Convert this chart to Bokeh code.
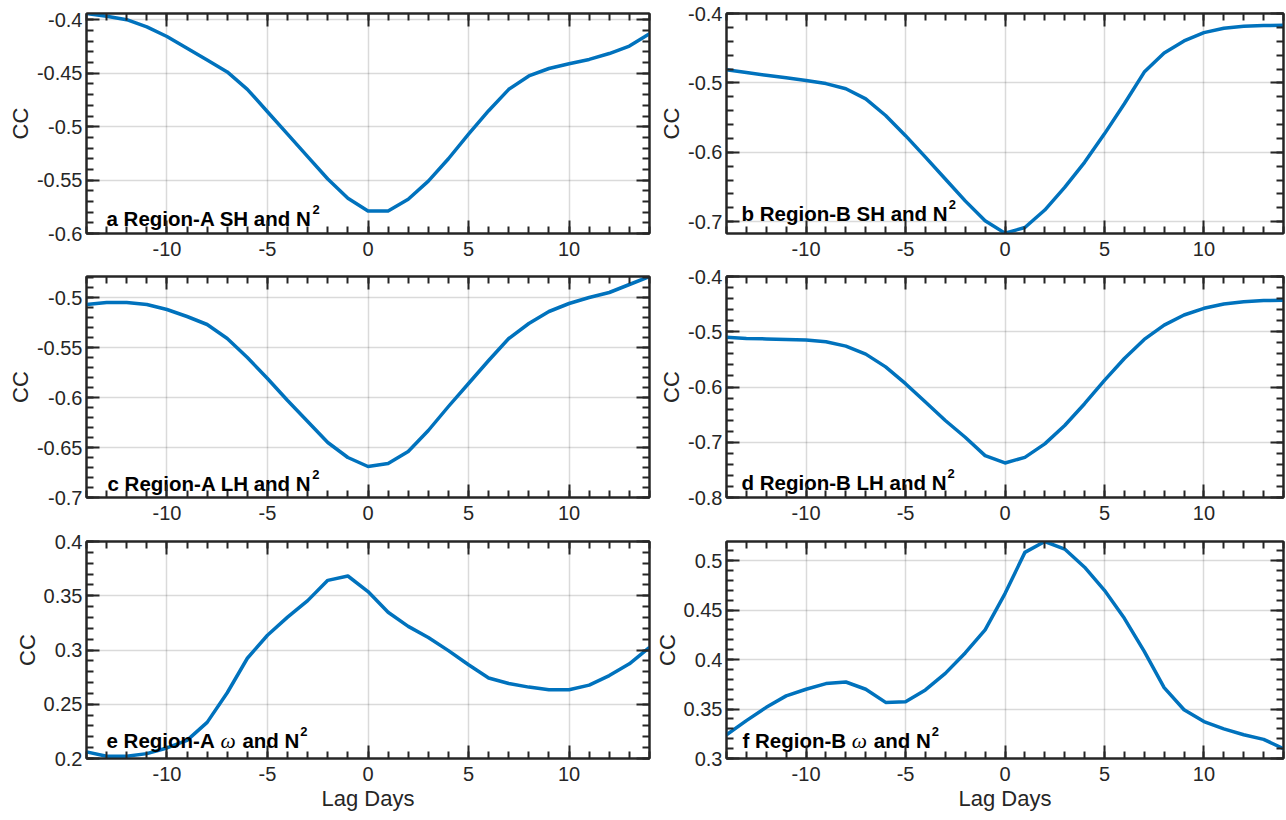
import numpy as np
from bokeh.plotting import figure
from bokeh.layouts import gridplot
from bokeh.models import (Range1d, Grid, LinearAxis, FixedTicker,
                          CustomJSTickFormatter)
from bokeh.core.properties import value
from bokeh.embed import file_html
from bokeh.resources import INLINE

# ---------------- data ----------------
lags = list(range(-14, 15))

cc_a = [-0.394, -0.3965, -0.3998, -0.4065, -0.4155, -0.4265, -0.4375, -0.4487,
        -0.465, -0.486, -0.507, -0.528, -0.549, -0.567, -0.579, -0.579, -0.568,
        -0.551, -0.530, -0.507, -0.485, -0.465, -0.4525, -0.4455, -0.441,
        -0.437, -0.4315, -0.4245, -0.413]
cc_b = [-0.481, -0.485, -0.489, -0.4925, -0.4964, -0.501, -0.5084, -0.523,
        -0.547, -0.576, -0.607, -0.6385, -0.670, -0.6987, -0.7165, -0.7084,
        -0.6832, -0.6506, -0.6144, -0.5734, -0.530, -0.4844, -0.457, -0.4396,
        -0.4275, -0.4212, -0.4184, -0.4173, -0.417]
cc_c = [-0.507, -0.505, -0.505, -0.507, -0.512, -0.519, -0.527, -0.541, -0.560,
        -0.581, -0.603, -0.624, -0.645, -0.660, -0.669, -0.666, -0.654, -0.633,
        -0.609, -0.586, -0.563, -0.541, -0.526, -0.514, -0.506, -0.500, -0.495,
        -0.487, -0.479]
cc_d = [-0.510, -0.512, -0.513, -0.514, -0.515, -0.518, -0.526, -0.5405,
        -0.5636, -0.594, -0.6273, -0.6606, -0.6909, -0.7242, -0.7375, -0.7273,
        -0.703, -0.6697, -0.6303, -0.5879, -0.5485, -0.5139, -0.4879, -0.4697,
        -0.4576, -0.4497, -0.4455, -0.4436, -0.443]
cc_e = [0.2061, 0.2021, 0.2021, 0.2045, 0.2097, 0.2167, 0.2333, 0.2606, 0.2924,
        0.3136, 0.3303, 0.3455, 0.3642, 0.3682, 0.3539, 0.3348, 0.3218, 0.3115,
        0.2994, 0.2864, 0.2742, 0.2691, 0.2658, 0.2633, 0.2633, 0.2676, 0.2764,
        0.2873, 0.3024]
cc_f = [0.324, 0.3383, 0.3517, 0.3633, 0.370, 0.3757, 0.3773, 0.370, 0.3567,
        0.3573, 0.3693, 0.386, 0.4067, 0.430, 0.4667, 0.5083, 0.5193, 0.5117,
        0.4933, 0.470, 0.4417, 0.4083, 0.3717, 0.3493, 0.3373, 0.330, 0.324,
        0.3193, 0.310]

ylim_a = [-0.6, -0.394]
ylim_b = [-0.717, -0.4]
ylim_c = [-0.7, -0.479]
ylim_d = [-0.8, -0.4]
ylim_e = [0.2, 0.4]
ylim_f = [0.3, 0.5193]

yticks_a = [-0.6, -0.55, -0.5, -0.45, -0.4]
yticks_b = [-0.7, -0.6, -0.5, -0.4]
yticks_c = [-0.7, -0.65, -0.6, -0.55, -0.5]
yticks_d = [-0.8, -0.7, -0.6, -0.5, -0.4]
yticks_e = [0.2, 0.25, 0.3, 0.35, 0.4]
yticks_f = [0.3, 0.35, 0.4, 0.45, 0.5]
yminor_step = [0.01, 0.02, 0.01, 0.02, 0.01, 0.01]

xticks = [-10, -5, 0, 5, 10]
xminor = list(range(-14, 15))

titles_pre = ["a Region-A SH and N", "b Region-B SH and N", "c Region-A LH and N",
              "d Region-B LH and N", "e Region-A", "f Region-B"]
titles_omega = [None, None, None, None, "and N", "and N"]
superscript = "2"
omega = "\u03c9"
ylabel = "CC"
xlabel = "Lag Days"

# ---------------- style ----------------
LINE = "#0072BD"
DARK = "#262626"
FONT = "Liberation Sans"
TICK_FS = "20px"
LAB_FS = "22px"
ANN_FS = 20.5
SUP_FS = 13

BOLD_W = {' ': 278, '-': 333, '2': 556, 'a': 556, 'b': 611, 'c': 556, 'd': 611,
          'e': 556, 'f': 333, 'g': 611, 'i': 278, 'n': 611, 'o': 611, 'R': 722,
          'A': 722, 'B': 722, 'S': 667, 'H': 722, 'L': 611, 'N': 722}


def tw(s, size):
    return sum(BOLD_W[c] for c in s) * size / 1000.0


fmt = CustomJSTickFormatter(code="return String(parseFloat(tick.toFixed(3)));")
blank = CustomJSTickFormatter(code="return '';")

# annotation offsets (px from frame left / frame bottom)
ann_dx = [20, 15, 21, 15, 20, 16]
ann_dy = [15, 20, 14, 15, 18, 18]

# layout (px)
heights = [265, 264, 291]
tops = [13, 11, 12]
bottoms = [32, 32, 62]
widths = [651, 634]
lefts = [86, 70]

series = [cc_a, cc_b, cc_c, cc_d, cc_e, cc_f]
ylims = [ylim_a, ylim_b, ylim_c, ylim_d, ylim_e, ylim_f]
yticks = [yticks_a, yticks_b, yticks_c, yticks_d, yticks_e, yticks_f]


def style_axis(ax):
    ax.axis_line_color = DARK
    ax.axis_line_width = 2
    ax.major_tick_line_color = DARK
    ax.minor_tick_line_color = DARK
    ax.major_tick_line_width = 2
    ax.minor_tick_line_width = 2
    ax.major_tick_in = 13
    ax.major_tick_out = 0
    ax.minor_tick_in = 7
    ax.minor_tick_out = 0
    ax.major_label_text_font = FONT
    ax.major_label_text_color = DARK


figs = []
for k in range(6):
    row, col = k // 2, k % 2
    lo, hi = ylims[k]
    step = yminor_step[k]
    yminor = list(np.round(np.arange(round(lo / step) * step - step, hi + step, step), 4))
    xt = FixedTicker(ticks=xticks, minor_ticks=xminor)
    yt = FixedTicker(ticks=yticks[k], minor_ticks=yminor)

    p = figure(width=widths[col], height=heights[row],
               x_range=Range1d(lags[0], lags[-1]), y_range=Range1d(lo, hi),
               x_axis_type=None, y_axis_type=None,
               output_backend="svg", toolbar_location=None, title=None,
               min_border_left=lefts[col], min_border_right=2,
               min_border_top=tops[row], min_border_bottom=bottoms[row])
    p.background_fill_color = "white"
    p.border_fill_color = "white"
    p.outline_line_color = DARK
    p.outline_line_width = 2

    p.add_layout(Grid(dimension=0, ticker=xt, grid_line_color=DARK,
                      grid_line_alpha=0.17, grid_line_width=1.5))
    p.add_layout(Grid(dimension=1, ticker=yt, grid_line_color=DARK,
                      grid_line_alpha=0.17, grid_line_width=1.5))

    xb = LinearAxis(ticker=xt, formatter=fmt)
    style_axis(xb)
    xb.major_label_text_font_size = TICK_FS
    xb.major_label_standoff = 8
    if row == 2:
        xb.axis_label = xlabel
        xb.axis_label_text_font = FONT
        xb.axis_label_text_font_size = LAB_FS
        xb.axis_label_text_font_style = "normal"
        xb.axis_label_text_color = DARK
        xb.axis_label_standoff = 2
    p.add_layout(xb, "below")

    yl = LinearAxis(ticker=yt, formatter=fmt, axis_label=ylabel)
    style_axis(yl)
    yl.major_label_text_font_size = TICK_FS
    yl.major_label_standoff = 4
    yl.axis_label_text_font = FONT
    yl.axis_label_text_font_size = LAB_FS
    yl.axis_label_text_font_style = "normal"
    yl.axis_label_text_color = DARK
    yl.axis_label_standoff = 1
    p.add_layout(yl, "left")

    xa = LinearAxis(ticker=xt, formatter=blank)
    style_axis(xa)
    xa.major_label_text_font_size = "0px"
    xa.major_label_standoff = 0
    p.add_layout(xa, "above")

    yr = LinearAxis(ticker=yt, formatter=blank)
    style_axis(yr)
    yr.major_label_text_font_size = "0px"
    yr.major_label_standoff = 0
    p.add_layout(yr, "right")

    p.line(lags, series[k], line_color=LINE, line_width=3.5, line_join="round")

    # panel annotation
    x0, y0 = lags[0], lo
    dx, dy = ann_dx[k], ann_dy[k]
    common = dict(text_baseline="alphabetic", text_align="left", text_color="black")
    if titles_omega[k] is None:
        main = titles_pre[k]
        p.text(x=[x0], y=[y0], text=[main], x_offset=dx, y_offset=-dy,
               text_font=value(FONT), text_font_style="bold",
               text_font_size=f"{ANN_FS}px", **common)
        sx = dx + tw(main, ANN_FS) + 1
    else:
        pre = titles_pre[k]
        p.text(x=[x0], y=[y0], text=[pre], x_offset=dx, y_offset=-dy,
               text_font=value(FONT), text_font_style="bold",
               text_font_size=f"{ANN_FS}px", **common)
        ox = dx + tw(pre + " ", ANN_FS)
        p.text(x=[x0], y=[y0], text=[omega], x_offset=ox, y_offset=-dy,
               text_font=value("Liberation Serif"), text_font_style="italic",
               text_font_size=f"{ANN_FS + 1}px", **common)
        ax_ = ox + 22
        post = titles_omega[k]
        p.text(x=[x0], y=[y0], text=[post], x_offset=ax_, y_offset=-dy,
               text_font=value(FONT), text_font_style="bold",
               text_font_size=f"{ANN_FS}px", **common)
        sx = ax_ + tw(post, ANN_FS) + 1
    p.text(x=[x0], y=[y0], text=[superscript], x_offset=sx, y_offset=-dy - 9,
           text_font=value(FONT), text_font_style="bold",
           text_font_size=f"{SUP_FS}px", **common)
    figs.append(p)

grid = gridplot([[figs[0], figs[1]], [figs[2], figs[3]], [figs[4], figs[5]]],
                toolbar_location=None)

open("out.html", "w").write(file_html(grid, INLINE))
